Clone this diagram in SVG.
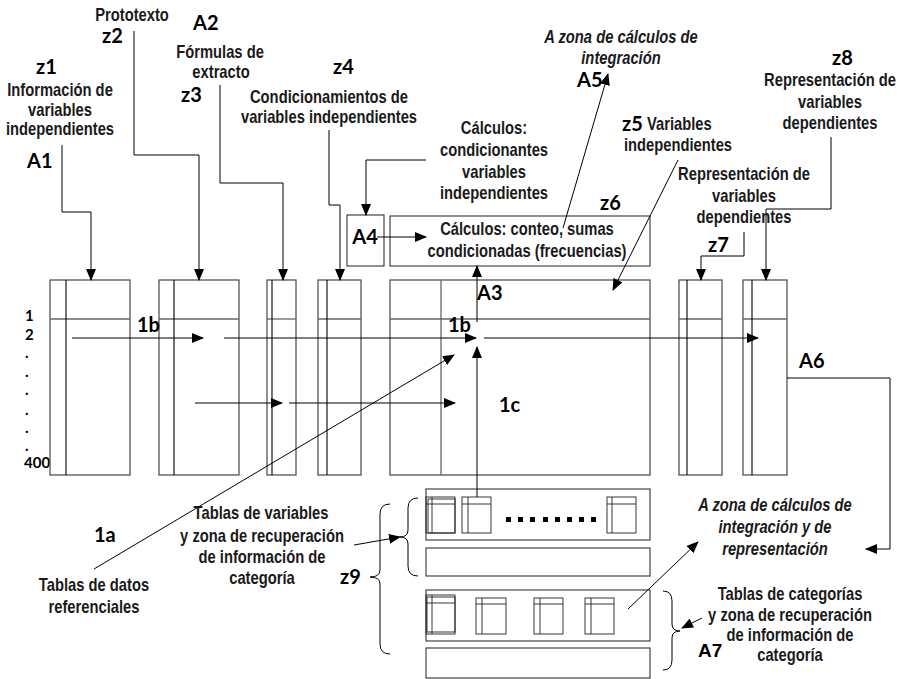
<svg xmlns="http://www.w3.org/2000/svg" width="899" height="679" viewBox="0 0 899 679">
<style>
.t{font-family:'Liberation Sans',Arial,sans-serif;font-weight:bold;font-size:18px;fill:#1a1a1a;text-anchor:middle}
.s{text-anchor:start}
.i{font-style:italic}
.l{font-family:Lato,'Open Sans',sans-serif;font-weight:bold;font-size:20px;fill:#000}
.n{font-family:Lato,'Open Sans',sans-serif;font-weight:bold;font-size:15px;fill:#000}
.a7{font-family:'Liberation Sans',Arial,sans-serif;font-weight:bold;font-size:19px;fill:#000}
.c{fill:none;stroke:#000;stroke-width:1}
.ca{marker-end:url(#ah)}
.tb{fill:none;stroke:#555;stroke-width:1.3}
.tl{stroke:#000;stroke-width:1.1}
.hl{stroke:#666;stroke-width:1.3}
.bx{fill:none;stroke:#333;stroke-width:1.1}
.st{fill:none;stroke:#222;stroke-width:0.9}
</style>
<defs>
<marker id="ah" markerWidth="12" markerHeight="10" refX="11" refY="5" orient="auto" markerUnits="userSpaceOnUse">
<path d="M0,0 L12,5 L0,10 z" fill="#000"/>
</marker>
</defs>

<!-- top labels -->
<g id="n-z1">
<text class="l" x="36" y="74">z1</text>
<text class="t" transform="translate(60,96) scale(0.82,1)">Información de</text>
<text class="t" transform="translate(60,116) scale(0.82,1)">variables</text>
<text class="t" transform="translate(60,135) scale(0.82,1)">independientes</text>
<text class="l" x="27" y="168">A1</text>
</g>
<g id="n-z2">
<text class="t" transform="translate(132,21) scale(0.82,1)">Prototexto</text>
<text class="l" x="102" y="43">z2</text>
</g>
<g id="n-z3">
<text class="l" x="193" y="30">A2</text>
<text class="t" transform="translate(220,58) scale(0.82,1)">Fórmulas de</text>
<text class="t" transform="translate(221,78) scale(0.82,1)">extracto</text>
<text class="l" x="181" y="102">z3</text>
</g>
<g id="n-z4">
<text class="l" x="333" y="74">z4</text>
<text class="t" transform="translate(329,103) scale(0.82,1)">Condicionamientos de</text>
<text class="t" transform="translate(329,123) scale(0.82,1)">variables independientes</text>
</g>
<g id="n-calc-cond">
<text class="t" transform="translate(494,134) scale(0.82,1)">Cálculos:</text>
<text class="t" transform="translate(494,156) scale(0.82,1)">condicionantes</text>
<text class="t" transform="translate(494,178) scale(0.82,1)">variables</text>
<text class="t" transform="translate(494,199) scale(0.82,1)">independientes</text>
</g>
<g id="n-a5">
<text class="t i" transform="translate(621,43) scale(0.82,1)">A zona de cálculos de</text>
<text class="t i" transform="translate(621,64) scale(0.82,1)">integración</text>
<text class="l" x="577" y="87">A5</text>
</g>
<g id="n-z5">
<text class="l" x="622" y="131">z5</text>
<text class="t s" transform="translate(647,130) scale(0.82,1)">Variables</text>
<text class="t" transform="translate(678,151) scale(0.82,1)">independientes</text>
</g>
<g id="n-z7label">
<text class="t" transform="translate(744,180) scale(0.82,1)">Representación de</text>
<text class="t" transform="translate(744,202) scale(0.82,1)">variables</text>
<text class="t" transform="translate(744,223) scale(0.82,1)">dependientes</text>
<text class="l" x="708" y="252">z7</text>
</g>
<g id="n-z8label">
<text class="l" x="832" y="65">z8</text>
<text class="t" transform="translate(830,86) scale(0.82,1)">Representación de</text>
<text class="t" transform="translate(830,108) scale(0.82,1)">variables</text>
<text class="t" transform="translate(830,129) scale(0.82,1)">dependientes</text>
</g>

<g id="n-a4">
<rect class="bx" x="347" y="215" width="37" height="51"/>
<text class="l" x="365" y="244" text-anchor="middle">A4</text>
</g>
<g id="n-z6">
<text class="l" x="600" y="210">z6</text>
<rect class="bx" x="390" y="216" width="260" height="50"/>
<text class="t" transform="translate(527,235) scale(0.82,1)">Cálculos: conteo, sumas</text>
<text class="t" transform="translate(527,257) scale(0.82,1)">condicionadas (frecuencias)</text>
</g>

<!-- row labels -->
<g id="n-rows">
<text class="n" x="25" y="321">1</text>
<text class="n" x="25" y="340">2</text>
<text class="n" x="25" y="358">.</text>
<text class="n" x="25" y="377">.</text>
<text class="n" x="25" y="395">.</text>
<text class="n" x="25" y="415">.</text>
<text class="n" x="25" y="433">.</text>
<text class="n" x="25" y="451">.</text>
<text class="n" x="24" y="468">400</text>
</g>

<!-- tables -->
<g id="n-t1">
<rect class="tb" x="50" y="280" width="80" height="195"/>
<line class="hl" x1="50" y1="319" x2="130" y2="319"/>
<line class="tl" x1="66" y1="280" x2="66" y2="475"/>
</g>
<g id="n-t2">
<rect class="tb" x="159" y="280" width="80" height="195"/>
<line class="hl" x1="159" y1="319" x2="239" y2="319"/>
<line class="tl" x1="174" y1="280" x2="174" y2="475"/>
</g>
<g id="n-t3">
<rect class="tb" x="267" y="280" width="29" height="195"/>
<line class="hl" x1="267" y1="319" x2="296" y2="319"/>
<line class="tl" x1="272" y1="280" x2="272" y2="475"/>
</g>
<g id="n-t4">
<rect class="tb" x="318" y="280" width="43" height="195"/>
<line class="hl" x1="318" y1="319" x2="361" y2="319"/>
<line class="tl" x1="327" y1="280" x2="327" y2="475"/>
</g>
<g id="n-t5">
<rect class="tb" x="390" y="280" width="260" height="195"/>
<line class="hl" x1="390" y1="319" x2="650" y2="319"/>
<line class="hl" x1="441" y1="280" x2="441" y2="475"/>
</g>
<g id="n-t6">
<rect class="tb" x="679" y="280" width="43" height="195"/>
<line class="hl" x1="679" y1="319" x2="722" y2="319"/>
<line class="tl" x1="687" y1="280" x2="687" y2="475"/>
</g>
<g id="n-t7">
<rect class="tb" x="743" y="280" width="44" height="195"/>
<line class="hl" x1="743" y1="319" x2="787" y2="319"/>
<line class="tl" x1="752" y1="280" x2="752" y2="475"/>
</g>

<!-- inline labels -->
<g id="n-labels">
<text class="l" x="137" y="332">1b</text>
<text class="l" x="448" y="332">1b</text>
<text class="l" x="477" y="300">A3</text>
<text class="l" x="499" y="412">1c</text>
<text class="l" x="799" y="368">A6</text>
<text class="l" x="94" y="542">1a</text>
<text class="l" x="340" y="584">z9</text>
<text class="a7" x="698" y="657">A7</text>
</g>

<g id="n-ref">
<text class="t" transform="translate(94,591) scale(0.82,1)">Tablas de datos</text>
<text class="t" transform="translate(94,613) scale(0.82,1)">referenciales</text>
</g>
<g id="n-tabvar-label">
<text class="t" transform="translate(261,519) scale(0.82,1)">Tablas de variables</text>
<text class="t" transform="translate(262,542) scale(0.82,1)">y zona de recuperación</text>
<text class="t" transform="translate(262,563) scale(0.82,1)">de información de</text>
<text class="t" transform="translate(262,584) scale(0.82,1)">categoría</text>
</g>
<g id="n-a6-label">
<text class="t i" transform="translate(775,511) scale(0.82,1)">A zona de cálculos de</text>
<text class="t i" transform="translate(775,533) scale(0.82,1)">integración y de</text>
<text class="t i" transform="translate(775,555) scale(0.82,1)">representación</text>
</g>
<g id="n-tabcat-label">
<text class="t" transform="translate(790,600) scale(0.82,1)">Tablas de categorías</text>
<text class="t" transform="translate(790,621) scale(0.82,1)">y zona de recuperación</text>
<text class="t" transform="translate(790,641) scale(0.82,1)">de información de</text>
<text class="t" transform="translate(790,661) scale(0.82,1)">categoría</text>
</g>

<!-- bottom tables -->
<g id="n-tabvar">
<rect class="bx" x="426" y="489" width="224" height="51"/>
<rect class="st" x="426" y="497" width="29" height="36"/>
<rect class="st" x="428" y="499" width="27" height="34"/>
<line class="st" x1="432" y1="497" x2="432" y2="533"/>
<line class="st" x1="426" y1="504" x2="455" y2="504"/>
<rect class="st" x="462" y="497" width="29" height="36"/>
<line class="st" x1="468" y1="497" x2="468" y2="533"/>
<line class="st" x1="462" y1="504" x2="491" y2="504"/>
<rect class="st" x="607" y="497" width="29" height="36"/>
<line class="st" x1="612" y1="497" x2="612" y2="533"/>
<line class="st" x1="607" y1="504" x2="636" y2="504"/>
<g fill="#000">
<rect x="506" y="517" width="5" height="5"/>
<rect x="518" y="517" width="5" height="5"/>
<rect x="530" y="517" width="5" height="5"/>
<rect x="543" y="517" width="5" height="5"/>
<rect x="555" y="517" width="5" height="5"/>
<rect x="567" y="517" width="5" height="5"/>
<rect x="579" y="517" width="5" height="5"/>
<rect x="591" y="517" width="5" height="5"/>
</g>
<rect class="bx" x="426" y="548" width="224" height="28"/>
</g>
<g id="n-tabcat">
<rect class="bx" x="426" y="590" width="224" height="51"/>
<rect class="st" x="426" y="595" width="29" height="39"/>
<rect class="st" x="427" y="597" width="28" height="35"/>
<line class="st" x1="432" y1="595" x2="432" y2="634"/>
<line class="st" x1="426" y1="603" x2="455" y2="603"/>
<rect class="st" x="476" y="598" width="30" height="36"/>
<line class="st" x1="482" y1="598" x2="482" y2="634"/>
<line class="st" x1="476" y1="604" x2="506" y2="604"/>
<rect class="st" x="534" y="598" width="29" height="36"/>
<line class="st" x1="540" y1="598" x2="540" y2="634"/>
<line class="st" x1="534" y1="604" x2="563" y2="604"/>
<rect class="st" x="585" y="598" width="29" height="36"/>
<line class="st" x1="591" y1="598" x2="591" y2="634"/>
<line class="st" x1="585" y1="604" x2="614" y2="604"/>
<rect class="bx" x="426" y="648" width="224" height="30"/>
</g>

<!-- connectors -->
<g id="connectors">
<polyline class="c ca" points="62,145 62,212 91,212 91,280"/>
<polyline class="c ca" points="134,31 134,155 199,155 199,280"/>
<polyline class="c ca" points="220,85 220,183 283,183 283,280"/>
<polyline class="c ca" points="329,130 329,205 340,205 340,280"/>
<polyline class="c ca" points="426,160 366,160 366,215"/>
<line class="c ca" x1="377" y1="237" x2="426" y2="237"/>
<line class="c ca" x1="563" y1="228" x2="608" y2="74"/>
<line class="c ca" x1="678" y1="160" x2="613" y2="290"/>
<polyline class="c ca" points="744,232 744,256 701,256 701,280"/>
<polyline class="c ca" points="831,137 831,209 766,209 766,280"/>
<line class="c ca" x1="477" y1="322" x2="477" y2="266"/>
<line class="c ca" x1="72" y1="338" x2="203" y2="338"/>
<line class="c ca" x1="224" y1="338" x2="476" y2="338"/>
<line class="c ca" x1="484" y1="338" x2="758" y2="338"/>
<line class="c ca" x1="195" y1="403" x2="282" y2="403"/>
<line class="c ca" x1="289" y1="403" x2="455" y2="403"/>
<line class="c ca" x1="94" y1="569" x2="454" y2="355"/>
<line class="c ca" x1="477" y1="497" x2="477" y2="347"/>
<polyline class="c ca" points="787,378 890,378 890,549 866,549"/>
<line class="c ca" x1="354" y1="545" x2="400" y2="537"/>
<line class="c ca" x1="628" y1="609" x2="698" y2="542"/>
<line class="c ca" x1="702" y1="618" x2="682" y2="628"/>
<path class="c" d="M418,498 Q408,498 408,508 L408,530 Q408,537 400,537 Q408,537 408,544 L408,566 Q408,576 418,576"/>
<path class="c" d="M390,504 Q380,504 380,514 L380,570 Q380,577 370,577 Q380,577 380,584 L380,644 Q380,654 390,654"/>
<path class="c" d="M663,591 Q672,591 672,601 L672,624 Q672,631 680,631 Q672,631 672,638 L672,660 Q672,670 663,670"/>
</g>
</svg>
